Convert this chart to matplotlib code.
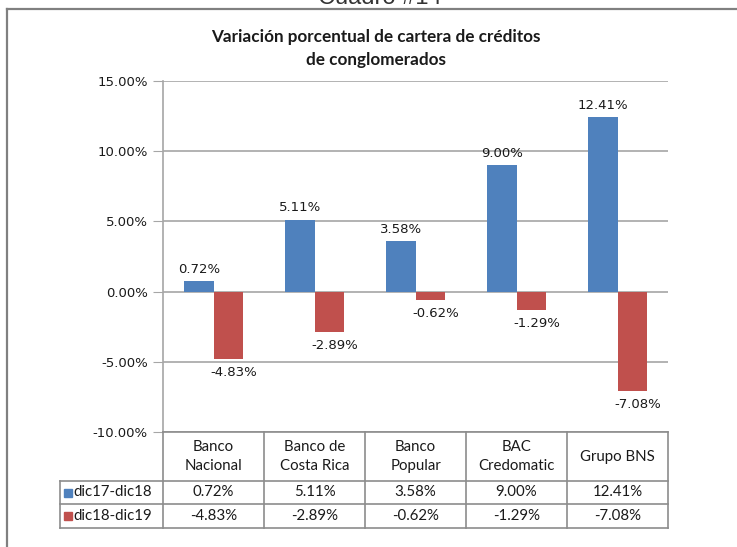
"""
Variación porcentual de cartera de créditos de conglomerados
Clustered bar chart with an Excel-style data table underneath.
"""
import matplotlib
matplotlib.use('Agg')
import matplotlib.pyplot as plt
from matplotlib.ticker import FuncFormatter

# Data
bancos = ["Banco\nNacional", "Banco de\nCosta Rica", "Banco\nPopular", "BAC\nCredomatic", "Grupo BNS"]
series_names = ["dic17-dic18", "dic18-dic19"]
dic17_dic18 = [0.72, 5.11, 3.58, 9.00, 12.41]
dic18_dic19 = [-4.83, -2.89, -0.62, -1.29, -7.08]
y_ticks = [-10, -5, 0, 5, 10, 15]

BLUE = '#4F81BD'
RED = '#C0504D'
GRID = '#A6A6A6'
LINE = '#8C8C8C'
TXT = '#1A1A1A'

W, H = 737, 547
fig = plt.figure(figsize=(W / 100, H / 100), dpi=100)


def fx(px):
    return px / W


def fy(py):
    return 1 - py / H


# outer chart border (left and top only visible)
fig.add_artist(plt.Line2D([fx(7), fx(7)], [fy(9), 0], color='#808080', lw=1.6))
fig.add_artist(plt.Line2D([fx(7), 1], [fy(9), fy(9)], color='#808080', lw=1.6))

# caption above the chart, cut off by the crop as in the source
fig.text(fx(380), fy(4), "Cuadro #14", ha='center', va='baseline', fontsize=17,
         family='Liberation Sans', color='#333333')

# title
fig.text(fx(376), fy(37), "Variación porcentual de cartera de créditos", ha='center', va='center',
         fontsize=12.3, fontweight='bold', family='Lato', color=TXT)
fig.text(fx(376), fy(60), "de conglomerados", ha='center', va='center',
         fontsize=12.3, fontweight='bold', family='Lato', color=TXT)

# plot area
left, right, top, bottom = 163, 668, 81, 432
ax = fig.add_axes([fx(left), fy(bottom), fx(right - left), (bottom - top) / H])
x = list(range(len(bancos)))
bw = 0.29
ax.bar([i - bw / 2 for i in x], dic17_dic18, width=bw, color=BLUE, zorder=3)
ax.bar([i + bw / 2 for i in x], dic18_dic19, width=bw, color=RED, zorder=3)

for i, v in enumerate(dic17_dic18):
    ax.annotate(f"{v:.2f}%", (i - bw / 2, v), xytext=(0, 4), textcoords='offset points',
                ha='center', va='bottom', fontsize=9.5, color=TXT)
for i, v in enumerate(dic18_dic19):
    ax.annotate(f"{v:.2f}%", (i + bw / 2 + 0.06, v), xytext=(0, -5), textcoords='offset points',
                ha='center', va='top', fontsize=9.5, color=TXT)

ax.set_xlim(-0.5, len(bancos) - 0.5)
ax.set_ylim(y_ticks[0], y_ticks[-1])
ax.set_yticks(y_ticks)
ax.yaxis.set_major_formatter(FuncFormatter(lambda v, p: f"{v:.2f}%"))
ax.tick_params(axis='y', labelsize=9.5, colors=TXT, length=7, color=GRID, pad=4)
ax.tick_params(axis='x', bottom=False, labelbottom=False)
ax.grid(axis='y', color=GRID, lw=1.2, zorder=0)
for s in ['top', 'right', 'bottom']:
    ax.spines[s].set_visible(False)
ax.spines['left'].set_color(GRID)
ax.spines['left'].set_linewidth(1.2)

# data table below the plot, sharing the category positions
t_bottom = 528
tax = fig.add_axes([fx(left), fy(t_bottom), fx(right - left), (t_bottom - bottom) / H])
tax.set_xlim(-0.5, len(bancos) - 0.5)
tax.set_ylim(t_bottom - bottom, 0)
tax.axis('off')

row_lines = [0, 49, 72, 96]
leg_left = -0.5 - (left - 60) / ((right - left) / len(bancos))
# horizontal lines
tax.plot([-0.5, 4.5], [row_lines[0]] * 2, color=LINE, lw=1.2, clip_on=False)
for yy in row_lines[1:]:
    tax.plot([leg_left, 4.5], [yy, yy], color=LINE, lw=1.2, clip_on=False)
# vertical lines
for k in range(len(bancos) + 1):
    tax.plot([k - 0.5, k - 0.5], [0, row_lines[-1]], color=LINE, lw=1.2, clip_on=False)
tax.plot([leg_left, leg_left], [row_lines[1], row_lines[-1]], color=LINE, lw=1.2, clip_on=False)

for i, name in enumerate(bancos):
    tax.text(i, row_lines[1] / 2, name, ha='center', va='center', fontsize=10.8,
             family='Lato', color=TXT, linespacing=1.45)
for r, (vals, col, sname) in enumerate([(dic17_dic18, BLUE, series_names[0]),
                                         (dic18_dic19, RED, series_names[1])]):
    yc = (row_lines[r + 1] + row_lines[r + 2]) / 2
    for i, v in enumerate(vals):
        tax.text(i, yc, f"{v:.2f}%", ha='center', va='center', fontsize=10.8,
                 family='Lato', color=TXT)
    tax.plot([leg_left + 0.08], [yc], marker='s', ms=6, color=col, clip_on=False)
    tax.text(leg_left + 0.13, yc, sname, ha='left', va='center', fontsize=10.8,
             family='Lato', color=TXT)

fig.savefig('out.png', dpi=100)
